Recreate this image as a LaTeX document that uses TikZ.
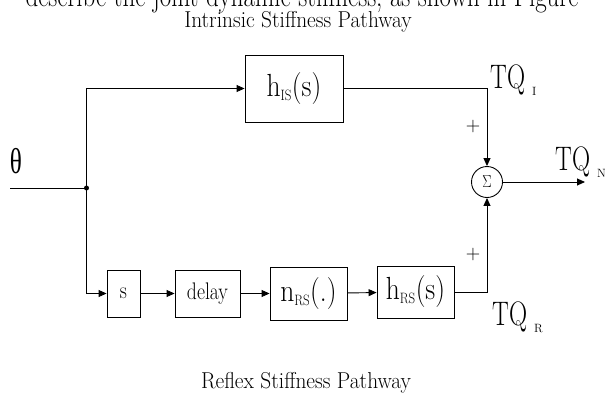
\documentclass[tikz,border=0pt]{standalone}
\usepackage{fontspec}
\usepackage{graphicx}
\usetikzlibrary{arrows.meta}
\newfontfamily\grkfont{Liberation Serif}
\newcommand{\nt}[2][0.86]{\scalebox{#1}[1]{#2}}
\newcommand{\bigf}{\fontsize{32}{34}\selectfont}
\newcommand{\subf}{\fontsize{15}{15}\selectfont}
\newcommand{\tqf}{\fontsize{34}{36}\selectfont}
\newcommand{\tqsub}[1]{\hspace{7pt}\raisebox{-7pt}{\fontsize{12}{12}\selectfont #1}}
\newcommand{\capf}{\fontsize{23}{25}\selectfont}
\tikzset{
  blk/.style={draw, line width=0.9pt, inner sep=0pt, minimum width=#1},
  conn/.style={line width=0.9pt},
  arr/.style={conn, -{Triangle[length=8pt,width=7pt]}},
  lbl/.style={inner sep=0pt},
}
\begin{document}
\begin{tikzpicture}[x=1pt,y=-1pt]
\useasboundingbox (0,0) rectangle (605,394);
\begin{scope}
\clip (0,0) rectangle (605,394);
\node[lbl, anchor=base] (cap) at (302,6) {\bigf\nt[0.78]{describe the joint dynamic stiffness, as shown in Figure}};
\end{scope}
% blocks
\node[blk=98pt, minimum height=67pt] (his) at (294,88.5) {\bigf\nt{h$_{\mbox{\subf IS}}$(s)}};
\node[blk=33pt, minimum height=47pt] (s) at (123.5,293.5) {\fontsize{24}{26}\selectfont\nt[0.82]{s}};
\node[blk=65pt, minimum height=47pt] (delay) at (207.5,293.5) {\fontsize{24}{26}\selectfont\nt[0.82]{delay}};
\node[blk=77pt, minimum height=53pt] (nrs) at (308.5,293.5) {\bigf\nt{n$_{\mbox{\subf RS}}$(.)}};
\node[blk=77pt, minimum height=52pt] (hrs) at (415.5,292) {\bigf\nt{h$_{\mbox{\subf RS}}$(s)}};
\node[draw, circle, line width=0.9pt, minimum size=31pt, inner sep=0pt] (sum) at (487,182) {\fontsize{17}{17}\selectfont\nt[0.8]{$\Sigma$}};
% coordinates
\coordinate (in) at (10,188);
\coordinate (split) at (86.5,188);
\coordinate (out) at (585,182);
% connectors
\draw[conn] (in) -- (split);
\fill (split) circle (2.5pt);
\draw[arr] (split) |- (his.west);
\draw[arr] (split) |- (s.west);
\draw[arr] (s) -- (delay);
\draw[arr] (delay) -- (nrs);
\draw[arr] (nrs) -- (hrs);
\draw[arr] (his.east) -| (sum.north);
\draw[arr] (hrs.east) -| (sum.south);
\draw[arr] (sum.east) -- (out);
% labels
\node[lbl] (theta) at (16,161) {\nt[0.7]{\grkfont\fontsize{36}{38}\selectfont θ}};
\node[lbl, anchor=base west] (tqi) at (490,88) {\tqf\nt[0.74]{TQ}\tqsub{I}};
\node[lbl, anchor=base west] (tqn) at (555,170) {\tqf\nt[0.74]{TQ}\tqsub{N}};
\node[lbl, anchor=base west] (tqr) at (492,325) {\tqf\nt[0.74]{TQ}\tqsub{R}};
\node[lbl] (p1) at (473,127) {\fontsize{20}{20}\selectfont +};
\node[lbl] (p2) at (473,255) {\fontsize{20}{20}\selectfont +};
\node[lbl, anchor=base] (intr) at (298,27) {\capf\nt[0.93]{Intrinsic Stiffness Pathway}};
\node[lbl, anchor=base] (refl) at (306,388) {\capf\nt[0.93]{Reflex Stiffness Pathway}};
\end{tikzpicture}
\end{document}
